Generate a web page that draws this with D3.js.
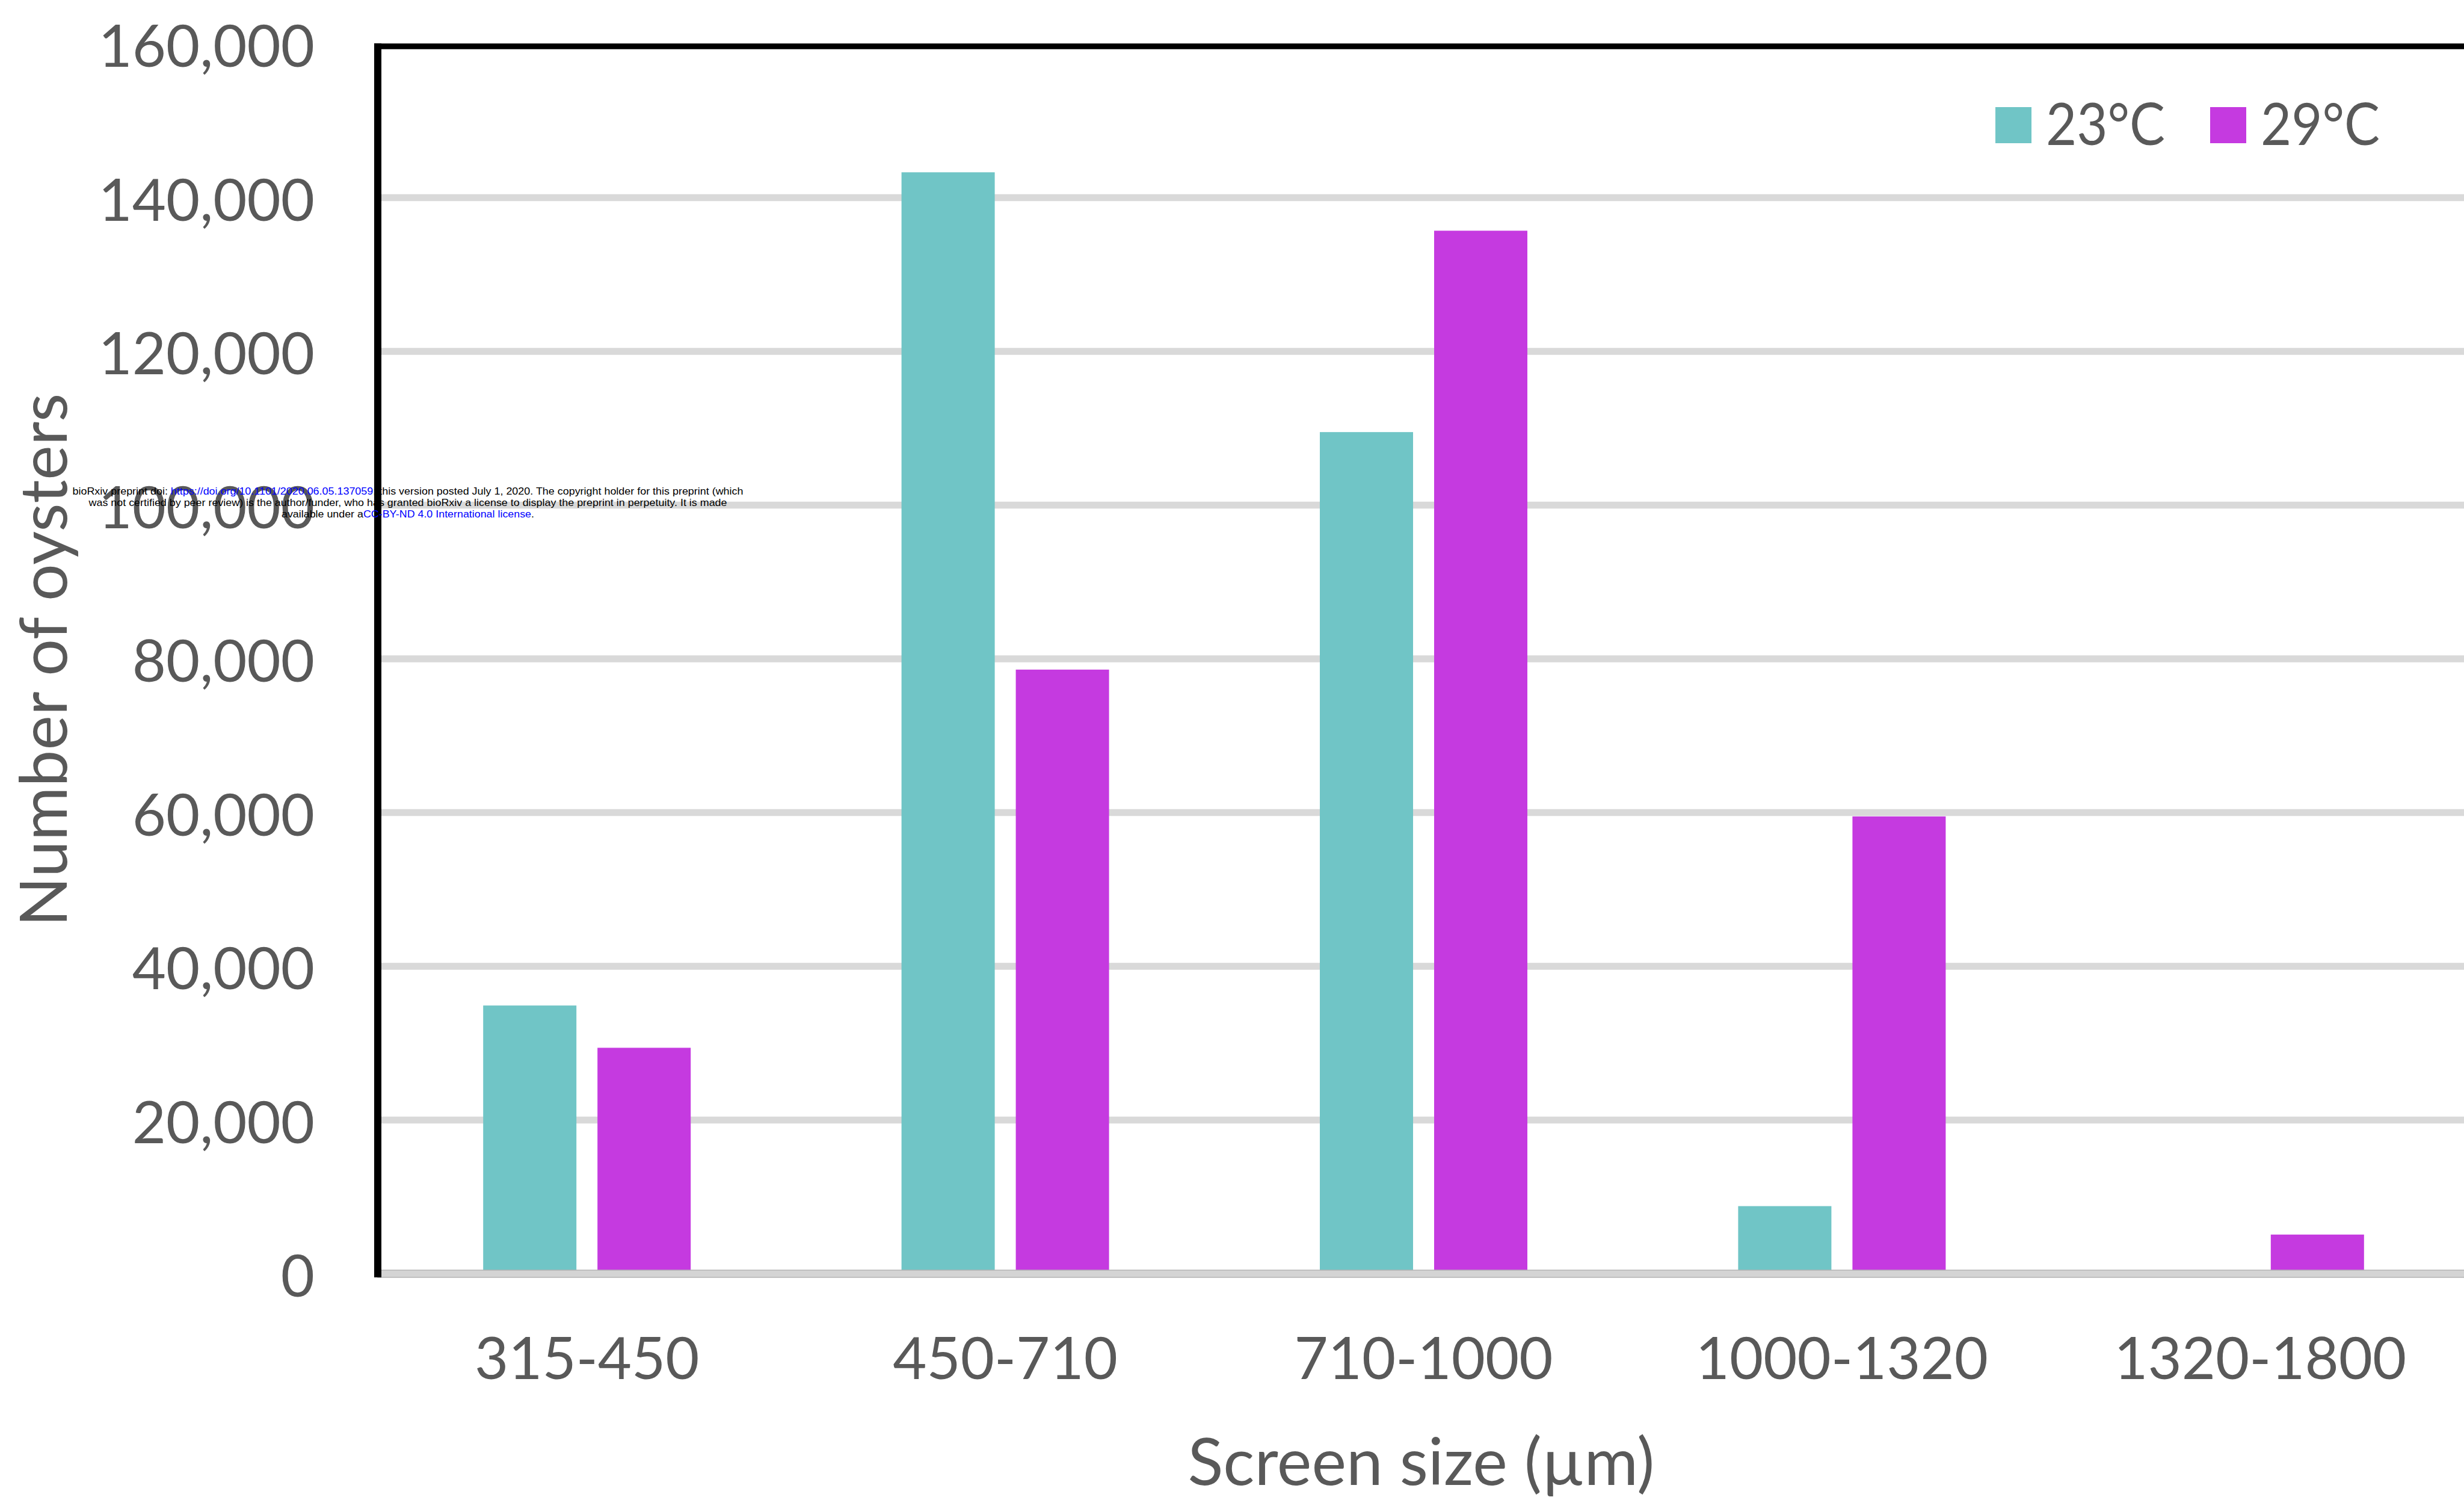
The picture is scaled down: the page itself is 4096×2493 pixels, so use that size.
<!DOCTYPE html>
<html>
<head>
<meta charset="utf-8">
<script src="https://cdn.jsdelivr.net/npm/d3@7"></script>
<style>
  html, body { margin: 0; padding: 0; background: #fff; }
  svg { display: block; }
  .lbl { font-family: Lato, "Open Sans", sans-serif; fill: #595959; }
  .wm { font-family: "Liberation Sans", Arial, sans-serif; fill: #000; }
</style>
</head>
<body>
<svg></svg>
<script>
// values
var categories = ['315-450', '450-710', '710-1000', '1000-1320', '1320-1800'];
var series = ['23°C', '29°C'];
var colors = ['#70c5c6', '#c53ae0'];
var t23 = [34900, 143300, 109500, 8800, 0];
var t29 = [29400, 78600, 135700, 59500, 5100];
var yTicks = [0, 20000, 40000, 60000, 80000, 100000, 120000, 140000, 160000];

var width = 4096, height = 2493;
var plotL = 628, plotR = 4105, plotT = 73, plotB = 2117;

var svg = d3.select('svg').attr('width', width).attr('height', height);

var x0 = d3.scaleBand().domain(categories).range([plotL, plotR]);
var step = x0.bandwidth();
var x1 = d3.scaleBand().domain(series)
    .range([step/2 - 172.5, step/2 + 172.5])
    .paddingInner(0.1842);
var y = d3.scaleLinear().domain([0, 160000]).range([plotB, plotT]);

var rows = categories.map(function(c, i){
    return {cat: c, vals: [{s: series[0], v: t23[i]}, {s: series[1], v: t29[i]}]};
});

// gridlines
svg.append('g').selectAll('line')
    .data(yTicks.filter(function(d){ return d > 0 && d < 160000; }))
    .enter().append('line')
    .attr('x1', plotL).attr('x2', plotR)
    .attr('y1', function(d){ return y(d); })
    .attr('y2', function(d){ return y(d); })
    .attr('stroke', '#d9d9d9')
    .attr('stroke-width', 11.5);

// bars
svg.append('g').selectAll('g')
    .data(rows).enter().append('g')
    .attr('transform', function(d){ return 'translate(' + x0(d.cat) + ',0)'; })
    .selectAll('rect')
    .data(function(d){ return d.vals; })
    .enter().append('rect')
    .attr('x', function(d){ return x1(d.s); })
    .attr('width', x1.bandwidth())
    .attr('y', function(d){ return y(d.v); })
    .attr('height', function(d){ return y(0) - y(d.v); })
    .attr('fill', function(d){ return colors[series.indexOf(d.s)]; });

// baseline (gray) with darker edges
svg.append('rect')
    .attr('x', plotL).attr('y', y(0) - 6)
    .attr('width', plotR - plotL).attr('height', 12)
    .attr('fill', '#d4d4d4')
    .attr('stroke', '#b4b4b4').attr('stroke-width', 1.5);

// black frame: left axis and top edge
var topY = y(160000) + 4;
svg.append('line')
    .attr('x1', plotL).attr('x2', plotL)
    .attr('y1', topY - 5).attr('y2', y(0) + 6)
    .attr('stroke', '#000').attr('stroke-width', 12);
svg.append('line')
    .attr('x1', plotL - 6).attr('x2', plotR)
    .attr('y1', topY).attr('y2', topY)
    .attr('stroke', '#000').attr('stroke-width', 9.5);

// y axis labels
var yAxis = svg.append('g')
    .attr('transform', 'translate(' + (plotL - 105) + ',0)')
    .call(d3.axisLeft(y).tickValues(yTicks).tickFormat(d3.format(',')).tickSize(0).tickPadding(0));
yAxis.select('.domain').remove();
yAxis.attr('font-family', null).attr('font-size', null);
yAxis.selectAll('text')
    .attr('class', 'lbl')
    .attr('dy', null)
    .attr('dominant-baseline', 'central')
    .style('font-size', '97px');

// x axis labels
var xAxis = svg.append('g')
    .attr('transform', 'translate(0,2292)')
    .call(d3.axisBottom(x0).tickSize(0).tickPadding(0));
xAxis.select('.domain').remove();
xAxis.attr('font-family', null).attr('font-size', null);
xAxis.selectAll('text')
    .attr('class', 'lbl')
    .attr('y', 0).attr('dy', null)
    .style('font-size', '97px');

// axis titles
svg.append('text')
    .attr('class', 'lbl')
    .attr('x', (plotL + plotR) / 2 - 4).attr('y', 2468)
    .attr('text-anchor', 'middle')
    .style('font-size', '109px')
    .text('Screen size (µm)');
svg.append('text')
    .attr('class', 'lbl')
    .attr('transform', 'translate(111,1097) rotate(-90)')
    .attr('text-anchor', 'middle')
    .style('font-size', '109px')
    .text('Number of oysters');

// legend
var legX = [3317, 3674];
var leg = svg.append('g').selectAll('g')
    .data(series).enter().append('g')
    .attr('transform', function(d, i){ return 'translate(' + legX[i] + ',178)'; });
leg.append('rect')
    .attr('width', 60).attr('height', 60)
    .attr('fill', function(d, i){ return colors[i]; });
leg.append('text')
    .attr('class', 'lbl')
    .attr('x', 84).attr('y', 63)
    .attr('textLength', 198).attr('lengthAdjust', 'spacingAndGlyphs')
    .style('font-size', '97px')
    .text(function(d){ return d; });

// bioRxiv watermark
var wm = svg.append('g').attr('class', 'wm').style('font-size', '17px');
var l1 = wm.append('text').attr('x', 678).attr('y', 822).attr('text-anchor', 'middle')
    .attr('textLength', 1115).attr('lengthAdjust', 'spacingAndGlyphs');
l1.append('tspan').text('bioRxiv preprint doi: ');
l1.append('tspan').attr('fill', '#0000ff').text('https://doi.org/10.1101/2020.06.05.137059');
l1.append('tspan').text('; this version posted July 1, 2020. The copyright holder for this preprint (which');
wm.append('text').attr('x', 678).attr('y', 841).attr('text-anchor', 'middle')
    .attr('textLength', 1061).attr('lengthAdjust', 'spacingAndGlyphs')
    .text('was not certified by peer review) is the author/funder, who has granted bioRxiv a license to display the preprint in perpetuity. It is made');
var l3 = wm.append('text').attr('x', 678).attr('y', 860).attr('text-anchor', 'middle')
    .attr('textLength', 420).attr('lengthAdjust', 'spacingAndGlyphs');
l3.append('tspan').text('available under a');
l3.append('tspan').attr('fill', '#0000ff').text('CC-BY-ND 4.0 International license');
l3.append('tspan').text('.');
</script>
</body>
</html>
